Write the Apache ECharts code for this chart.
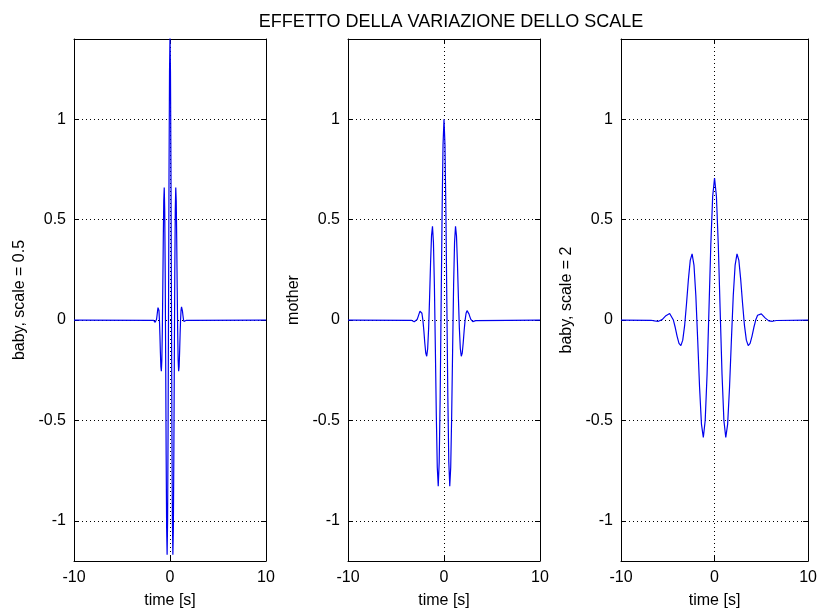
<!DOCTYPE html>
<html>
<head>
<meta charset="utf-8">
<script src="https://cdn.jsdelivr.net/npm/echarts@6/dist/echarts.min.js"></script>
<style>
  html, body { margin: 0; padding: 0; background: #fff; }
  #chart { width: 820px; height: 614px; }
</style>
</head>
<body>
<div id="chart"></div>
<script>
// campioni (passo costante, simmetrici attorno a t = 0)
const tStart = [-1.7, -3.4, -6.8]          // primo istante di ogni pannello
const tStep = [0.05, 0.1, 0.2]             // passo di campionamento
const edgeTime = [-10, 10]                 // il segnale e' nullo fino ai bordi

const baby05 = [
  -0.001, -0.004, -0.008, -0.011, -0.011, -0.007, 0.004, 0.023, 0.044, 0.062, 0.066, 0.048, 0.000,
  -0.074, -0.161, -0.232, -0.255, -0.201, -0.057, 0.160, 0.400, 0.594, 0.660, 0.547, 0.243,
  -0.199, -0.672, -1.036, -1.169, -1.000, -0.543, 0.096, 0.749, 1.234, 1.414,
  1.234, 0.749, 0.096, -0.543, -1.000, -1.169, -1.036, -0.672, -0.199,
  0.243, 0.547, 0.660, 0.594, 0.400, 0.160, -0.057, -0.201, -0.255, -0.232, -0.161, -0.074,
  0.000, 0.048, 0.066, 0.062, 0.044, 0.023, 0.004, -0.007, -0.011, -0.011, -0.008, -0.004, -0.001
]
const mother = [
  -0.001, -0.003, -0.006, -0.008, -0.008, -0.005, 0.003, 0.016, 0.031, 0.044, 0.047, 0.034, 0.000,
  -0.052, -0.114, -0.164, -0.180, -0.142, -0.040, 0.113, 0.283, 0.420, 0.467, 0.387, 0.172,
  -0.141, -0.475, -0.733, -0.827, -0.707, -0.384, 0.068, 0.530, 0.873, 1.000,
  0.873, 0.530, 0.068, -0.384, -0.707, -0.827, -0.733, -0.475, -0.141,
  0.172, 0.387, 0.467, 0.420, 0.283, 0.113, -0.040, -0.142, -0.180, -0.164, -0.114, -0.052,
  0.000, 0.034, 0.047, 0.044, 0.031, 0.016, 0.003, -0.005, -0.008, -0.008, -0.006, -0.003, -0.001
]
const baby2 = [
  -0.001, -0.002, -0.004, -0.006, -0.006, -0.004, 0.002, 0.011, 0.022, 0.031, 0.033, 0.024, 0.000,
  -0.037, -0.081, -0.116, -0.127, -0.100, -0.028, 0.080, 0.200, 0.297, 0.330, 0.274, 0.122,
  -0.100, -0.336, -0.518, -0.585, -0.500, -0.271, 0.048, 0.375, 0.617, 0.707,
  0.617, 0.375, 0.048, -0.271, -0.500, -0.585, -0.518, -0.336, -0.100,
  0.122, 0.274, 0.330, 0.297, 0.200, 0.080, -0.028, -0.100, -0.127, -0.116, -0.081, -0.037,
  0.000, 0.024, 0.033, 0.031, 0.022, 0.011, 0.002, -0.004, -0.006, -0.006, -0.004, -0.002, -0.001
]
const panels = [baby05, mother, baby2]
const yNames = ['baby, scale = 0.5', 'mother', 'baby, scale = 2']
const xName = 'time [s]'
const titleText = 'EFFETTO DELLA VARIAZIONE DELLO SCALE'

const font = 'Liberation Sans, Arial, sans-serif'
const gridLeft = [74, 348, 621]
const gridWidth = 192

//costruisce le coppie [tempo, valore] per il grafico
const toPairs = (values, start, step) => {
  let list = [[edgeTime[0], 0]]
  values.forEach((v, i) => list.push([+(start + i * step).toFixed(3), v]))
  list.push([edgeTime[1], 0])
  return list
}

const dotted = { color: '#000', width: 1, type: [1, 3] }
const solidAxis = { show: true, onZero: false, lineStyle: { color: '#000', width: 1 } }
const tick = { show: true, inside: true, length: 5, lineStyle: { color: '#000' } }
let grid = [], xAxis = [], yAxis = [], series = []
panels.forEach((values, i) => {
  grid.push({ left: gridLeft[i], width: gridWidth, top: 39, bottom: 50 })
  xAxis.push({
    type: 'value', gridIndex: i, min: -10, max: 10, interval: 10,
    name: xName, nameLocation: 'middle', nameGap: 32,
    nameTextStyle: { color: '#000', fontSize: 16, fontFamily: font },
    axisLine: solidAxis, axisTick: tick,
    axisLabel: { color: '#000', fontSize: 16, fontFamily: font, margin: 9 },
    splitLine: { show: true, showMinLine: false, showMaxLine: false, lineStyle: dotted }
  })
  xAxis.push({
    type: 'value', gridIndex: i, min: -10, max: 10, interval: 10, position: 'top',
    axisLine: solidAxis, axisTick: tick,
    axisLabel: { show: false }, splitLine: { show: false }
  })
  yAxis.push({
    type: 'value', gridIndex: i, min: -1.2, max: 1.4, splitNumber: 5,
    name: yNames[i], nameLocation: 'middle', nameGap: 46,
    nameTextStyle: { color: '#000', fontSize: 16, fontFamily: font },
    axisLine: solidAxis, axisTick: tick,
    axisLabel: { color: '#000', fontSize: 16, fontFamily: font, margin: 8, showMinLabel: false, showMaxLabel: false },
    splitLine: { show: true, showMinLine: false, showMaxLine: false, lineStyle: dotted }
  })
  yAxis.push({
    type: 'value', gridIndex: i, min: -1.2, max: 1.4, splitNumber: 5, position: 'right',
    axisLine: solidAxis, axisTick: tick,
    axisLabel: { show: false }, splitLine: { show: false }
  })
  series.push({
    type: 'line', xAxisIndex: i * 2, yAxisIndex: i * 2, showSymbol: false, clip: true,
    data: toPairs(values, tStart[i], tStep[i]),
    lineStyle: { color: '#0000ee', width: 1.2 }, animation: false
  })
})

const myChart = echarts.init(document.getElementById('chart'), null, { renderer: 'canvas' })
myChart.setOption({
  backgroundColor: '#fff',
  animation: false,
  title: {
    text: titleText, left: 446, top: 8, textAlign: 'center',
    textStyle: { color: '#000', fontSize: 18, fontWeight: 'normal', fontFamily: font }
  },
  grid: grid,
  xAxis: xAxis,
  yAxis: yAxis,
  series: series
})
</script>
</body>
</html>
